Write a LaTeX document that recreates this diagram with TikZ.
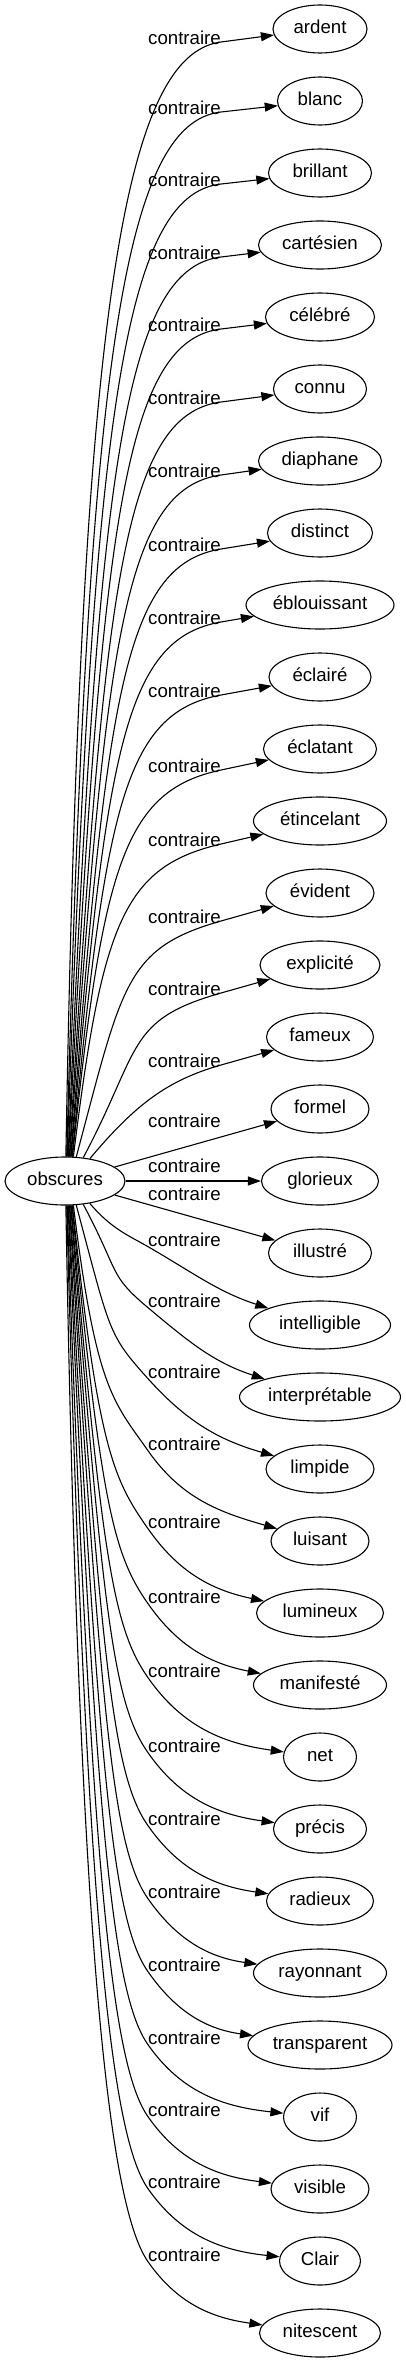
\documentclass[tikz,border=0pt]{standalone}
\usepackage{fontspec}
\setmainfont{Liberation Sans}
\usepackage{tikz}
\usetikzlibrary{shapes.geometric,arrows.meta,calc}
\tikzstyle{wordnode}=[draw, ellipse, line width=1.1pt, minimum height=48pt, inner xsep=0pt, inner ysep=2pt, text height=13pt, text depth=4pt, font=\fontsize{18.67}{22}\selectfont]
\tikzstyle{relabel}=[inner sep=0pt, anchor=mid, font=\fontsize{18.67}{22}\selectfont]
\tikzstyle{opposite}=[draw, line width=1.1pt, -{Triangle[length=13pt,width=9pt]}]

\begin{document}
\begin{tikzpicture}[x=1pt, y=1pt]
  \useasboundingbox (0,0) rectangle (406,-2363);

  % source word
  \node[wordnode, minimum width=120pt] (obscures) at (65,-1181) {obscures};

  % opposite words
  \node[wordnode, minimum width=94pt] (ardent) at (320,-29) {ardent};
  \node[wordnode, minimum width=85pt] (blanc) at (320,-101) {blanc};
  \node[wordnode, minimum width=103pt] (brillant) at (320,-173) {brillant};
  \node[wordnode, minimum width=123pt] (cartesien) at (320,-245) {cartésien};
  \node[wordnode, minimum width=109pt] (celebre) at (320,-317) {célébré};
  \node[wordnode, minimum width=93pt] (connu) at (320,-389) {connu};
  \node[wordnode, minimum width=123pt] (diaphane) at (320,-461) {diaphane};
  \node[wordnode, minimum width=105pt] (distinct) at (320,-533) {distinct};
  \node[wordnode, minimum width=148pt] (eblouissant) at (320,-605) {éblouissant};
  \node[wordnode, minimum width=102pt] (eclaire) at (320,-677) {éclairé};
  \node[wordnode, minimum width=113pt] (eclatant) at (320,-749) {éclatant};
  \node[wordnode, minimum width=133pt] (etincelant) at (320,-821) {étincelant};
  \node[wordnode, minimum width=108pt] (evident) at (320,-893) {évident};
  \node[wordnode, minimum width=120pt] (explicite) at (320,-965) {explicité};
  \node[wordnode, minimum width=107pt] (fameux) at (320,-1037) {fameux};
  \node[wordnode, minimum width=98pt] (formel) at (320,-1109) {formel};
  \node[wordnode, minimum width=117pt] (glorieux) at (320,-1181) {glorieux};
  \node[wordnode, minimum width=103pt] (illustre) at (320,-1253) {illustré};
  \node[wordnode, minimum width=141pt] (intelligible) at (320,-1325) {intelligible};
  \node[wordnode, minimum width=161pt] (interpretable) at (320,-1397) {interprétable};
  \node[wordnode, minimum width=108pt] (limpide) at (320,-1469) {limpide};
  \node[wordnode, minimum width=98pt] (luisant) at (320,-1541) {luisant};
  \node[wordnode, minimum width=127pt] (lumineux) at (320,-1613) {lumineux};
  \node[wordnode, minimum width=133pt] (manifeste) at (320,-1685) {manifesté};
  \node[wordnode, minimum width=73pt] (net) at (320,-1757) {net};
  \node[wordnode, minimum width=93pt] (precis) at (320,-1829) {précis};
  \node[wordnode, minimum width=107pt] (radieux) at (320,-1901) {radieux};
  \node[wordnode, minimum width=133pt] (rayonnant) at (320,-1973) {rayonnant};
  \node[wordnode, minimum width=144pt] (transparent) at (320,-2045) {transparent};
  \node[wordnode, minimum width=73pt] (vif) at (320,-2117) {vif};
  \node[wordnode, minimum width=98pt] (visible) at (320,-2189) {visible};
  \node[wordnode, minimum width=81pt] (clair) at (320,-2261) {Clair};
  \node[wordnode, minimum width=121pt] (nitescent) at (320,-2333) {nitescent};

  % relation labels
  \node[relabel] (l1) at (184.5,-42) {contraire};
  \node[relabel] (l2) at (184.5,-112) {contraire};
  \node[relabel] (l3) at (184.5,-184) {contraire};
  \node[relabel] (l4) at (184.5,-257) {contraire};
  \node[relabel] (l5) at (184.5,-329) {contraire};
  \node[relabel] (l6) at (184.5,-402) {contraire};
  \node[relabel] (l7) at (184.5,-475) {contraire};
  \node[relabel] (l8) at (184.5,-549) {contraire};
  \node[relabel] (l9) at (184.5,-622) {contraire};
  \node[relabel] (l10) at (184.5,-695) {contraire};
  \node[relabel] (l11) at (184.5,-770) {contraire};
  \node[relabel] (l12) at (184.5,-844) {contraire};
  \node[relabel] (l13) at (184.5,-921) {contraire};
  \node[relabel] (l14) at (184.5,-993) {contraire};
  \node[relabel] (l15) at (184.5,-1065) {contraire};
  \node[relabel] (l16) at (184.5,-1125) {contraire};
  \node[relabel] (l17) at (184.5,-1170) {contraire};
  \node[relabel] (l18) at (184.5,-1198) {contraire};
  \node[relabel] (l19) at (184.5,-1244) {contraire};
  \node[relabel] (l20) at (184.5,-1305) {contraire};
  \node[relabel] (l21) at (184.5,-1376) {contraire};
  \node[relabel] (l22) at (184.5,-1448) {contraire};
  \node[relabel] (l23) at (184.5,-1526) {contraire};
  \node[relabel] (l24) at (184.5,-1601) {contraire};
  \node[relabel] (l25) at (184.5,-1675) {contraire};
  \node[relabel] (l26) at (184.5,-1750) {contraire};
  \node[relabel] (l27) at (184.5,-1823) {contraire};
  \node[relabel] (l28) at (184.5,-1896) {contraire};
  \node[relabel] (l29) at (184.5,-1969) {contraire};
  \node[relabel] (l30) at (184.5,-2042) {contraire};
  \node[relabel] (l31) at (184.5,-2114) {contraire};
  \node[relabel] (l32) at (184.5,-2186) {contraire};
  \node[relabel] (l33) at (184.5,-2259) {contraire};

  % upper connections
  \draw[opposite] (obscures.88) .. controls +(89:837) and ($(l1.mid east)!-100pt!(ardent)$) .. (l1.mid east) -- (ardent);
  \draw[opposite] (obscures.86) .. controls +(88.5:785) and ($(l2.mid east)!-100pt!(blanc)$) .. (l2.mid east) -- (blanc);
  \draw[opposite] (obscures.85) .. controls +(88:731) and ($(l3.mid east)!-100pt!(brillant)$) .. (l3.mid east) -- (brillant);
  \draw[opposite] (obscures.83) .. controls +(87.5:676) and ($(l4.mid east)!-100pt!(cartesien)$) .. (l4.mid east) -- (cartesien);
  \draw[opposite] (obscures.82) .. controls +(87:622) and ($(l5.mid east)!-100pt!(celebre)$) .. (l5.mid east) -- (celebre);
  \draw[opposite] (obscures.80) .. controls +(86.5:567) and ($(l6.mid east)!-100pt!(connu)$) .. (l6.mid east) -- (connu);
  \draw[opposite] (obscures.79) .. controls +(86:512) and ($(l7.mid east)!-100pt!(diaphane)$) .. (l7.mid east) -- (diaphane);
  \draw[opposite] (obscures.77) .. controls +(85.5:457) and ($(l8.mid east)!-100pt!(distinct)$) .. (l8.mid east) -- (distinct);
  \draw[opposite] (obscures.76) .. controls +(85:402) and ($(l9.mid east)!-100pt!(eblouissant)$) .. (l9.mid east) -- (eblouissant);
  \draw[opposite] (obscures.74) .. controls +(84.5:347) and ($(l10.mid east)!-100pt!(eclaire)$) .. (l10.mid east) -- (eclaire);
  \draw[opposite] (obscures.73) .. controls +(84:291) and ($(l11.mid east)!-100pt!(eclatant)$) .. (l11.mid east) -- (eclatant);
  \draw[opposite] (obscures.71) .. controls +(83:236) and ($(l12.mid east)!-100pt!(etincelant)$) .. (l12.mid east) -- (etincelant);
  \draw[opposite] (obscures.65) .. controls +(75:178) and ($(l13.mid east)!-100pt!(evident)$) .. (l13.mid east) -- (evident);
  \draw[opposite] (obscures.52) .. controls +(62:124) and ($(l14.mid east)!-99pt!(explicite)$) .. (l14.mid east) -- (explicite);
  \draw[opposite] (obscures.42) .. controls +(50:70) and ($(l15.mid east)!-56pt!(fameux)$) .. (l15.mid east) -- (fameux);

  % straight connections
  \draw[opposite] (obscures) -- (formel);
  \draw[opposite] (obscures) -- (glorieux);
  \draw[opposite] (obscures) -- (illustre);

  % lower connections
  \draw[opposite] (obscures.-42) .. controls +(-50:33) and +(150:22) .. (l19.base west) to[out=-30, in=162] (intelligible);
  \draw[opposite] (obscures.-52) .. controls +(-62:79) and +(140:52) .. (l20.base west) to[out=-40, in=162] (interpretable);
  \draw[opposite] (obscures.-65) .. controls +(-75:132) and +(132:60) .. (l21.base west) to[out=-48, in=164] (limpide);
  \draw[opposite] (obscures.-71) .. controls +(-83:186) and +(125:60) .. (l22.base west) to[out=-55, in=164] (luisant);
  \draw[opposite] (obscures.-73) .. controls +(-84:245) and +(125:60) .. (l23.base west) to[out=-55, in=168] (lumineux);
  \draw[opposite] (obscures.-74) .. controls +(-84.5:301) and +(125:60) .. (l24.base west) to[out=-55, in=169] (manifeste);
  \draw[opposite] (obscures.-76) .. controls +(-85:356) and +(125:60) .. (l25.base west) to[out=-55, in=172] (net);
  \draw[opposite] (obscures.-77) .. controls +(-85.5:413) and +(125:60) .. (l26.base west) to[out=-55, in=172] (precis);
  \draw[opposite] (obscures.-79) .. controls +(-86:467) and +(125:60) .. (l27.base west) to[out=-55, in=172] (radieux);
  \draw[opposite] (obscures.-80) .. controls +(-86.5:522) and +(125:60) .. (l28.base west) to[out=-55, in=172] (rayonnant);
  \draw[opposite] (obscures.-82) .. controls +(-87:577) and +(125:60) .. (l29.base west) to[out=-55, in=172] (transparent);
  \draw[opposite] (obscures.-83) .. controls +(-87.5:632) and +(125:60) .. (l30.base west) to[out=-55, in=174] (vif);
  \draw[opposite] (obscures.-85) .. controls +(-88:686) and +(125:60) .. (l31.base west) to[out=-55, in=173] (visible);
  \draw[opposite] (obscures.-86) .. controls +(-88.5:740) and +(125:60) .. (l32.base west) to[out=-55, in=174] (clair);
  \draw[opposite] (obscures.-88) .. controls +(-89:794) and +(125:60) .. (l33.base west) to[out=-55, in=172] (nitescent);

\end{tikzpicture}
\end{document}
